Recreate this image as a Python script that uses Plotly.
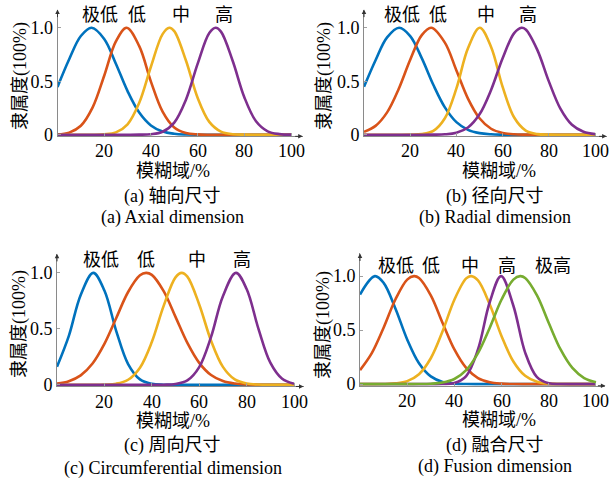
import plotly.graph_objects as go

# ---------------- data ----------------
# panel (a) Axial dimension
A_BLUE_X = [0, 5, 10, 14.6, 20, 25, 30, 35, 40, 45, 50, 55, 60, 65, 70, 75, 80, 85, 90, 95, 100]
A_BLUE_Y = [0.447, 0.706, 0.923, 1.0, 0.896, 0.664, 0.408, 0.207, 0.087, 0.030, 0.009, 0.002, 0.0, 0, 0, 0, 0, 0, 0, 0, 0]
A_RED_X = [0, 5, 10, 15, 20, 25, 29.6, 35, 40, 45, 50, 55, 60, 65, 70, 75, 80, 85, 90, 95, 100]
A_RED_Y = [0.003, 0.020, 0.084, 0.253, 0.552, 0.872, 1.0, 0.828, 0.497, 0.216, 0.068, 0.016, 0.003, 0, 0, 0, 0, 0, 0, 0, 0]
A_YEL_X = [0, 5, 10, 15, 20, 25, 30, 35, 40, 45, 47.9, 50, 55, 60, 65, 70, 75, 80, 85, 90, 95, 100]
A_YEL_Y = [0, 0, 0, 0, 0.004, 0.022, 0.098, 0.299, 0.636, 0.941, 1.0, 0.969, 0.694, 0.346, 0.120, 0.029, 0.005, 0.001, 0, 0, 0, 0]
A_PUR_X = [0, 5, 10, 15, 20, 25, 30, 35, 40, 45, 50, 55, 60, 65, 67.7, 70, 75, 80, 85, 90, 95, 100]
A_PUR_Y = [0, 0, 0, 0, 0, 0, 0, 0.001, 0.005, 0.028, 0.114, 0.328, 0.663, 0.951, 1.0, 0.964, 0.692, 0.351, 0.126, 0.032, 0.006, 0.001]

# panel (b) Radial dimension
B_BLUE_X = [0, 5, 10, 15.2, 20, 25, 30, 35, 40, 45, 50, 55, 60, 65, 70, 75, 80, 85, 90, 95, 100]
B_BLUE_Y = [0.448, 0.697, 0.910, 1.0, 0.923, 0.716, 0.467, 0.256, 0.118, 0.046, 0.015, 0.004, 0.001, 0, 0, 0, 0, 0, 0, 0, 0]
B_RED_X = [0, 5, 10, 15, 20, 25, 29.1, 35, 40, 45, 50, 55, 60, 65, 70, 75, 80, 85, 90, 95, 100]
B_RED_Y = [0.027, 0.083, 0.209, 0.427, 0.701, 0.931, 1.0, 0.861, 0.601, 0.338, 0.154, 0.056, 0.017, 0.004, 0.001, 0, 0, 0, 0, 0, 0]
B_YEL_X = [0, 5, 10, 15, 20, 25, 30, 35, 40, 45, 50.1, 55, 60, 65, 70, 75, 80, 85, 90, 95, 100]
B_YEL_Y = [0, 0, 0, 0, 0.001, 0.006, 0.036, 0.154, 0.433, 0.808, 1.0, 0.821, 0.447, 0.161, 0.039, 0.006, 0.001, 0, 0, 0, 0]
B_PUR_X = [0, 5, 10, 15, 20, 25, 30, 35, 40, 45, 50, 55, 60, 65, 68.2, 70, 75, 80, 85, 90, 95, 100]
B_PUR_Y = [0, 0, 0, 0, 0, 0, 0.001, 0.004, 0.019, 0.068, 0.191, 0.419, 0.715, 0.950, 1.0, 0.984, 0.794, 0.499, 0.244, 0.093, 0.028, 0.006]

# panel (c) Circumferential dimension
C_BLUE_X = [0, 5, 10, 15.3, 20, 25, 30, 35, 40, 45, 50, 55, 60, 65, 70, 75, 80, 85, 90, 95, 100]
C_BLUE_Y = [0.161, 0.437, 0.803, 1.0, 0.842, 0.480, 0.185, 0.048, 0.009, 0.001, 0, 0, 0, 0, 0, 0, 0, 0, 0, 0, 0]
C_RED_X = [0, 5, 10, 15, 20, 25, 30, 35, 37.6, 40, 45, 50, 55, 60, 65, 70, 75, 80, 85, 90, 95, 100]
C_RED_Y = [0.010, 0.032, 0.084, 0.190, 0.365, 0.597, 0.829, 0.978, 1.0, 0.982, 0.837, 0.607, 0.374, 0.196, 0.087, 0.033, 0.011, 0.003, 0.001, 0, 0, 0]
C_YEL_X = [0, 5, 10, 15, 20, 25, 30, 35, 40, 45, 50, 52.6, 55, 60, 65, 70, 75, 80, 85, 90, 95, 100]
C_YEL_Y = [0, 0, 0, 0, 0.002, 0.010, 0.045, 0.153, 0.382, 0.705, 0.960, 1.0, 0.966, 0.718, 0.394, 0.160, 0.048, 0.011, 0.002, 0, 0, 0]
C_PUR_X = [0, 5, 10, 15, 20, 25, 30, 35, 40, 45, 50, 55, 60, 65, 70, 75.5, 80, 85, 90, 95, 100]
C_PUR_Y = [0, 0, 0, 0, 0, 0, 0, 0, 0, 0.001, 0.007, 0.039, 0.158, 0.428, 0.792, 1.0, 0.856, 0.500, 0.198, 0.054, 0.010]

# panel (d) Fusion dimension
D_BLUE_X = [0, 6.3, 10, 15, 20, 25, 30, 35, 40, 45, 50, 55, 60, 65, 70, 75, 80, 85, 90, 95, 100]
D_BLUE_Y = [0.830, 1.0, 0.938, 0.701, 0.414, 0.194, 0.072, 0.021, 0.005, 0.001, 0, 0, 0, 0, 0, 0, 0, 0, 0, 0, 0]
D_RED_X = [0, 5, 10, 15, 20, 22.9, 25, 30, 35, 40, 45, 50, 55, 60, 65, 70, 75, 80, 85, 90, 95, 100]
D_RED_Y = [0.130, 0.288, 0.523, 0.784, 0.968, 1.0, 0.983, 0.822, 0.566, 0.321, 0.150, 0.057, 0.018, 0.005, 0.001, 0, 0, 0, 0, 0, 0, 0]
D_YEL_X = [0, 5, 10, 15, 20, 25, 30, 35, 40, 45, 47.1, 50, 55, 60, 65, 70, 75, 80, 85, 90, 95, 100]
D_YEL_Y = [0, 0, 0.001, 0.007, 0.028, 0.092, 0.240, 0.490, 0.782, 0.979, 1.0, 0.960, 0.738, 0.444, 0.210, 0.077, 0.022, 0.005, 0.001, 0, 0, 0]
D_PUR_X = [0, 5, 10, 15, 20, 25, 30, 35, 40, 45, 50, 55, 59.8, 65, 70, 75, 80, 85, 90, 95, 100]
D_PUR_Y = [0, 0, 0, 0, 0, 0, 0, 0.001, 0.010, 0.075, 0.321, 0.761, 1.0, 0.726, 0.292, 0.065, 0.008, 0.001, 0, 0, 0]
D_GRN_X = [0, 5, 10, 15, 20, 25, 30, 35, 40, 45, 50, 55, 60, 65, 67.9, 70, 75, 80, 85, 90, 95, 100]
D_GRN_Y = [0, 0, 0, 0, 0, 0.001, 0.004, 0.015, 0.048, 0.130, 0.288, 0.523, 0.784, 0.968, 1.0, 0.983, 0.822, 0.566, 0.321, 0.150, 0.057, 0.018]

# category labels above curves
LABELS_4 = ["极低", "低", "中", "高"]
LABELS_5 = ["极低", "低", "中", "高", "极高"]
A_LABEL_X = [18.3, 34, 53, 71.3]
B_LABEL_X = [16.5, 32.2, 52.8, 71]
C_LABEL_X = [18.5, 37.6, 58.9, 77.9]
D_LABEL_X = [15.4, 30.2, 46.6, 62.2, 81.6]

X_TICKS = [20, 40, 60, 80, 100]
X_TICKTEXT = ["20", "40", "60", "80", "100"]
Y_TICKS = [0, 0.5, 1.0]
Y_TICKTEXT = ["0", "0.5", "1.0"]

Y_TITLE = "隶属度(100%)"
X_TITLE = "模糊域/%"
CAPTIONS_CN = ["(a) 轴向尺寸", "(b) 径向尺寸", "(c) 周向尺寸", "(d) 融合尺寸"]
CAPTIONS_EN = ["(a) Axial dimension", "(b) Radial dimension",
               "(c) Circumferential dimension", "(d) Fusion dimension"]

# ---------------- styling / layout ----------------
W, H = 609, 490
BLUE, RED, YEL, PUR, GRN = "#0072BD", "#D95319", "#EDB120", "#7E2F8E", "#77AC30"
FONT = "Liberation Serif, Times New Roman, Noto Sans CJK SC, serif"
FS = 18
LW = 2.6


def px(x):
    return x / W


def py(y):
    return 1 - y / H


panels = [
    dict(xdom=[57.5, 302.7], ydom=[138.9, 9.8], xr=[0, 105], yr=[-0.015, 1.17],
         curves=[(A_BLUE_X, A_BLUE_Y, BLUE), (A_RED_X, A_RED_Y, RED),
                 (A_YEL_X, A_YEL_Y, YEL), (A_PUR_X, A_PUR_Y, PUR)],
         labels=LABELS_4, lx=A_LABEL_X, ly=1.117, xtick_y=154,
         ytitle=(20, 77.5), xtitle=(173, 174), cap1=(172, 200), cap2=(172.5, 221.5)),
    dict(xdom=[364.0, 606.6], ydom=[138.9, 9.8], xr=[0, 105], yr=[-0.015, 1.17],
         curves=[(B_BLUE_X, B_BLUE_Y, BLUE), (B_RED_X, B_RED_Y, RED),
                 (B_YEL_X, B_YEL_Y, YEL), (B_PUR_X, B_PUR_Y, PUR)],
         labels=LABELS_4, lx=B_LABEL_X, ly=1.117, xtick_y=154,
         ytitle=(324, 77.5), xtitle=(499, 174), cap1=(495, 200), cap2=(495.5, 222)),
    dict(xdom=[57.0, 303.5], ydom=[393.7, 258.6], xr=[0, 104], yr=[-0.015, 1.17],
         curves=[(C_BLUE_X, C_BLUE_Y, BLUE), (C_RED_X, C_RED_Y, RED),
                 (C_YEL_X, C_YEL_Y, YEL), (C_PUR_X, C_PUR_Y, PUR)],
         labels=LABELS_4, lx=C_LABEL_X, ly=1.114, xtick_y=410,
         ytitle=(20, 330), xtitle=(173, 429), cap1=(172, 454), cap2=(172.5, 477)),
    dict(xdom=[360.0, 605.4], ydom=[393.0, 258.2], xr=[0, 104], yr=[-0.015, 1.21],
         curves=[(D_BLUE_X, D_BLUE_Y, BLUE), (D_RED_X, D_RED_Y, RED),
                 (D_YEL_X, D_YEL_Y, YEL), (D_PUR_X, D_PUR_Y, PUR),
                 (D_GRN_X, D_GRN_Y, GRN)],
         labels=LABELS_5, lx=D_LABEL_X, ly=1.098, xtick_y=408,
         ytitle=(324, 331), xtitle=(499, 428), cap1=(495, 454), cap2=(495.5, 475.5)),
]

fig = go.Figure()
layout = dict(width=W, height=H, margin=dict(l=0, r=0, t=0, b=0),
              paper_bgcolor="white", plot_bgcolor="white", showlegend=False,
              font=dict(family=FONT, size=FS, color="black"))
annotations = []

for i, p in enumerate(panels):
    n = "" if i == 0 else str(i + 1)
    xa, ya = "x" + n, "y" + n
    for xs, ys, col in p["curves"]:
        fig.add_trace(go.Scatter(x=xs, y=ys, mode="lines", xaxis=xa, yaxis=ya,
                                 line=dict(color=col, width=LW, shape="spline", smoothing=1.0),
                                 hoverinfo="skip"))
    layout["xaxis" + n] = dict(domain=[px(p["xdom"][0]), px(p["xdom"][1])], range=p["xr"],
                               anchor=ya, showgrid=False, zeroline=False, showline=True,
                               linecolor="#8a8a8a", linewidth=1, ticks="inside", ticklen=3,
                               tickcolor="#a0a0a0", tickvals=X_TICKS, showticklabels=False)
    layout["yaxis" + n] = dict(domain=[py(p["ydom"][0]), py(p["ydom"][1])], range=p["yr"],
                               anchor=xa, showgrid=False, zeroline=False, showline=True,
                               linecolor="#8a8a8a", linewidth=1, ticks="inside", ticklen=3,
                               tickcolor="#a0a0a0", tickvals=Y_TICKS, ticktext=Y_TICKTEXT,
                               tickfont=dict(family=FONT, size=FS, color="black"))
    # x tick labels placed on the axis' data positions
    xdomain_ref = xa + " domain" if False else xa
    for tv, tt in zip(X_TICKS, X_TICKTEXT):
        annotations.append(dict(x=tv, y=py(p["xtick_y"]), xref=xa, yref="paper", text=tt,
                                showarrow=False, xanchor="center", yanchor="middle",
                                font=dict(family=FONT, size=FS, color="black")))
    # axis arrows
    annotations.append(dict(x=p["xr"][1], y=p["yr"][0], xref=xa, yref=ya, text="",
                            showarrow=True, ax=-9, ay=0, arrowhead=2, arrowsize=0.9,
                            arrowwidth=1, arrowcolor="#333"))
    annotations.append(dict(x=p["xr"][0], y=p["yr"][1], xref=xa, yref=ya, text="",
                            showarrow=True, ax=0, ay=9, arrowhead=2, arrowsize=0.9,
                            arrowwidth=1, arrowcolor="#333"))
    # category labels
    for lab, lx in zip(p["labels"], p["lx"]):
        annotations.append(dict(x=lx, y=p["ly"], xref=xa, yref=ya, text=lab, showarrow=False,
                                xanchor="center", yanchor="middle",
                                font=dict(family=FONT, size=FS, color="black")))
    # titles and captions
    annotations.append(dict(x=px(p["ytitle"][0]), y=py(p["ytitle"][1]), xref="paper", yref="paper",
                            text=Y_TITLE, textangle=-90, showarrow=False,
                            xanchor="center", yanchor="middle",
                            font=dict(family=FONT, size=FS, color="black")))
    annotations.append(dict(x=px(p["xtitle"][0]), y=py(p["xtitle"][1]), xref="paper", yref="paper",
                            text=X_TITLE, showarrow=False, xanchor="center", yanchor="middle",
                            font=dict(family=FONT, size=FS, color="black")))
    annotations.append(dict(x=px(p["cap1"][0]), y=py(p["cap1"][1]), xref="paper", yref="paper",
                            text=CAPTIONS_CN[i], showarrow=False, xanchor="center", yanchor="middle",
                            font=dict(family=FONT, size=FS, color="black")))
    annotations.append(dict(x=px(p["cap2"][0]), y=py(p["cap2"][1]), xref="paper", yref="paper",
                            text=CAPTIONS_EN[i], showarrow=False, xanchor="center", yanchor="middle",
                            font=dict(family=FONT, size=FS, color="black")))

layout["annotations"] = annotations
fig.update_layout(**layout)
# remove the browser's default page margin so the 609x490 figure fills the window exactly
fig.write_html("out.html",
               config={"displayModeBar": False, "staticPlot": True},
               post_script="document.body.style.margin='0';document.body.style.overflow='hidden';")
